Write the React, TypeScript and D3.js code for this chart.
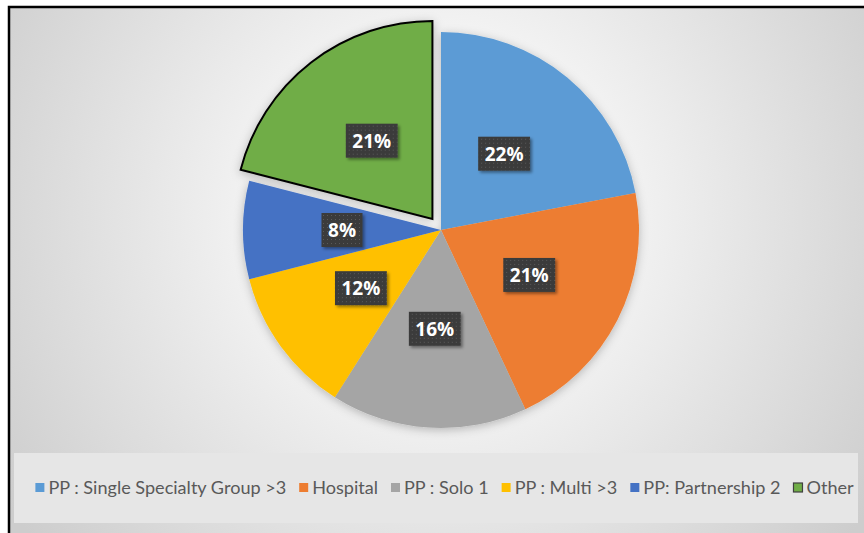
import { useRef, useEffect } from "react";
import * as d3 from "d3";

// slice order follows the reference, clockwise from 12 o'clock
const categories = [
  "PP : Single Specialty Group >3",
  "Hospital",
  "PP : Solo 1",
  "PP : Multi >3",
  "PP: Partnership 2",
  "Other",
];
const shares = [22, 21, 16, 12, 8, 21];
const colors = ["#5B9BD5", "#ED7D31", "#A5A5A5", "#FFC000", "#4472C4", "#70AD47"];
const explodedIndex = 5;

const App = () => {
  const svgRef = useRef<SVGSVGElement>(null);
  const width = 864;
  const height = 533;

  useEffect(() => {
    const svg = d3.select(svgRef.current);
    svg.selectAll("*").remove();

    const defs = svg.append("defs");
    const bg = defs.append("radialGradient")
      .attr("id", "bg")
      .attr("gradientUnits", "userSpaceOnUse")
      .attr("cx", 440).attr("cy", 215).attr("r", 520);
    bg.append("stop").attr("offset", "0").attr("stop-color", "#ffffff");
    bg.append("stop").attr("offset", "0.35").attr("stop-color", "#f3f3f3");
    bg.append("stop").attr("offset", "1").attr("stop-color", "#cdcdcd");

    const shadow = defs.append("filter").attr("id", "pieShadow")
      .attr("x", "-20%").attr("y", "-20%").attr("width", "140%").attr("height", "140%");
    shadow.append("feDropShadow")
      .attr("dx", 0).attr("dy", 2).attr("stdDeviation", 5)
      .attr("flood-color", "#000").attr("flood-opacity", 0.25);

    const boxShadow = defs.append("filter").attr("id", "boxShadow")
      .attr("x", "-30%").attr("y", "-30%").attr("width", "160%").attr("height", "160%");
    boxShadow.append("feDropShadow")
      .attr("dx", 2).attr("dy", 2).attr("stdDeviation", 1.5)
      .attr("flood-color", "#000").attr("flood-opacity", 0.4);

    const dots = defs.append("pattern").attr("id", "dots")
      .attr("patternUnits", "userSpaceOnUse").attr("width", 4).attr("height", 4);
    dots.append("rect").attr("width", 4).attr("height", 4).attr("fill", "#3b3b3b");
    dots.append("rect").attr("x", 1).attr("y", 1).attr("width", 1).attr("height", 1).attr("fill", "#5a5a5a");

    // frame + background
    svg.append("rect")
      .attr("x", 9).attr("y", 7)
      .attr("width", width + 10).attr("height", height + 10)
      .attr("fill", "url(#bg)")
      .attr("stroke", "#000").attr("stroke-width", 2.5);

    const cx = 441;
    const cy = 230;
    const radius = 198;

    const pie = d3.pie<number>().sort(null).value(d => d);
    const arcs = pie(shares);
    const arc = d3.arc<d3.PieArcDatum<number>>().innerRadius(0).outerRadius(radius);

    const offset = (i: number) => {
      if (i !== explodedIndex) return [0, 0];
      const mid = (arcs[i].startAngle + arcs[i].endAngle) / 2;
      return [Math.sin(mid) * 14, -Math.cos(mid) * 14];
    };

    const g = svg.append("g").attr("transform", `translate(${cx},${cy})`);

    g.append("g").attr("filter", "url(#pieShadow)")
      .selectAll("path")
      .data(arcs)
      .enter()
      .append("path")
      .attr("transform", (d, i) => `translate(${offset(i)})`)
      .attr("d", arc)
      .attr("fill", (d, i) => colors[i])
      .attr("stroke", (d, i) => (i === explodedIndex ? "#000" : "none"))
      .attr("stroke-width", 2)
      .attr("stroke-linejoin", "miter");

    // data labels
    const labels = g.selectAll(".lbl")
      .data(arcs)
      .enter()
      .append("g")
      .attr("class", "lbl")
      .attr("transform", (d, i) => {
        const [x, y] = arc.centroid(d);
        const [ox, oy] = offset(i);
        return `translate(${x + ox},${y + oy})`;
      });

    labels.each(function (d) {
      const sel = d3.select(this);
      const txt = sel.append("text")
        .attr("text-anchor", "middle")
        .attr("dy", "0.36em")
        .attr("font-family", "'Open Sans', sans-serif")
        .attr("font-weight", 700)
        .attr("font-size", 19)
        .attr("fill", "#fff")
        .text(`${d.data}%`);
      const w = (txt.node() as SVGTextElement).getComputedTextLength() + 13;
      const h = 34;
      sel.insert("rect", "text")
        .attr("x", -w / 2).attr("y", -h / 2)
        .attr("width", w).attr("height", h)
        .attr("fill", "url(#dots)")
        .attr("filter", "url(#boxShadow)");
    });

    // legend
    svg.append("rect")
      .attr("x", 14).attr("y", 453)
      .attr("width", 844).attr("height", 70)
      .attr("fill", "#e6e6e6");

    const legend = svg.append("g");
    const items = legend.selectAll("g")
      .data(categories)
      .enter()
      .append("g");
    items.append("rect")
      .attr("y", -5).attr("width", 9).attr("height", 9)
      .attr("fill", (d, i) => colors[i])
      .attr("stroke", (d, i) => (i === explodedIndex ? "#404040" : "none"))
      .attr("stroke-width", 1.2);
    const texts = items.append("text")
      .attr("x", 13)
      .attr("dy", "0.35em")
      .attr("font-family", "Lato, sans-serif")
      .attr("font-size", 16)
      .attr("fill", "#595959")
      .text(d => d);

    // size the legend font so the row spans the same width as the reference
    const gap = 13;
    const span = 819;
    let measured = 0;
    texts.each(function () { measured += (this as SVGTextElement).getComputedTextLength(); });
    const room = span - categories.length * 13 - gap * (categories.length - 1);
    texts.attr("font-size", 16 * room / measured);

    const widths: number[] = [];
    texts.each(function () {
      widths.push(13 + (this as SVGTextElement).getComputedTextLength());
    });
    const total = d3.sum(widths) + gap * (widths.length - 1);
    let x = 444.5 - total / 2;
    items.attr("transform", (d, i) => {
      const t = `translate(${x},488)`;
      x += widths[i] + gap;
      return t;
    });
  }, []);

  return (
    <svg
      ref={svgRef}
      width={width}
      height={height}
      style={{ position: "absolute", left: 0, top: 0 }}
    ></svg>
  );
};

export default App;
